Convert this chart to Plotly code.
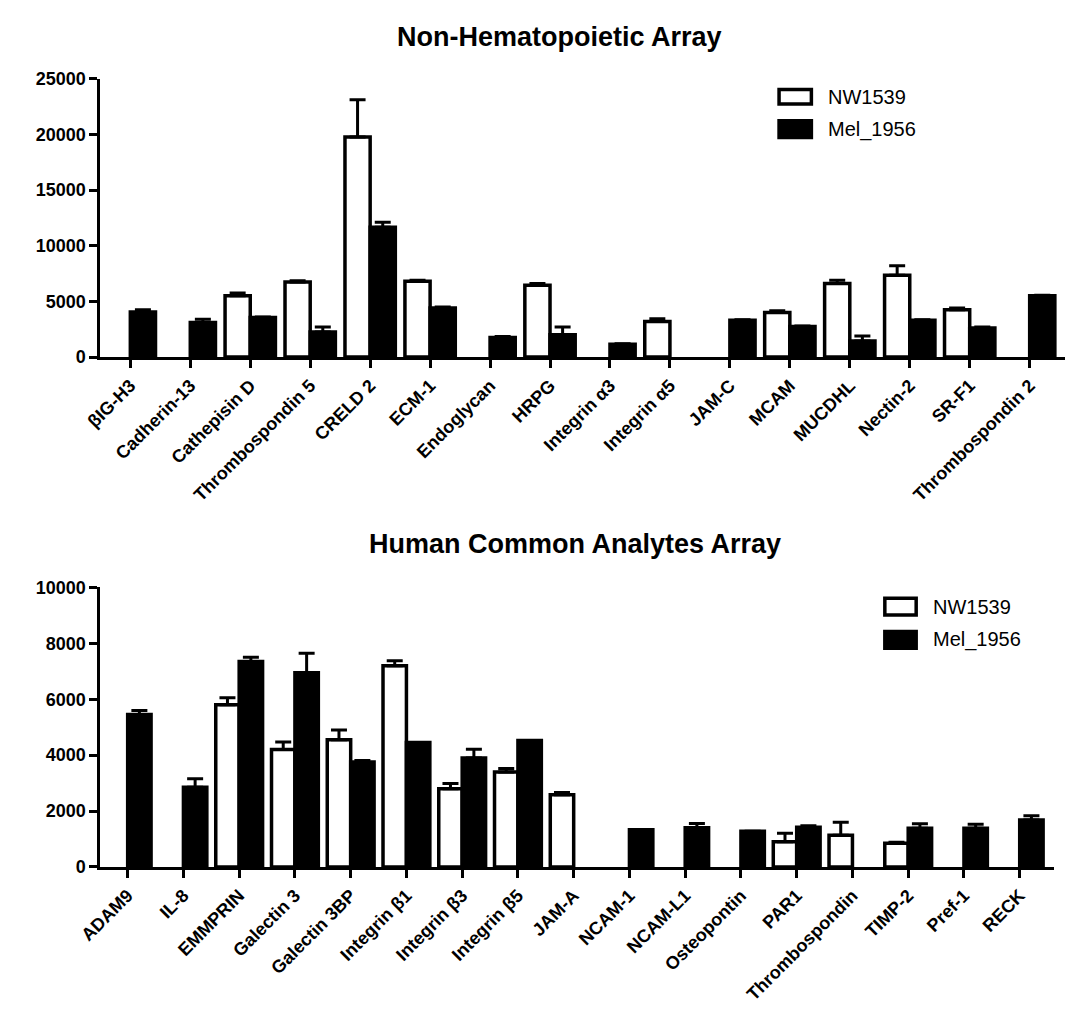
import plotly.graph_objects as go

W, H = 1067, 1022
FONT = "Liberation Sans, Arial, sans-serif"

# ---------------- Data: Non-Hematopoietic Array ----------------
top_categories = ["βIG-H3", "Cadherin-13", "Cathepisin D", "Thrombospondin 5", "CRELD 2",
                  "ECM-1", "Endoglycan", "HRPG", "Integrin α3", "Integrin α5", "JAM-C",
                  "MCAM", "MUCDHL", "Nectin-2", "SR-F1", "Thrombospondin 2"]
top_nw1539 = [None, None, 5500, 6750, 19750, 6800, None, 6450, None, 3200, None,
              4000, 6600, 7350, 4250, None]
top_nw1539_err = [0, 0, 250, 100, 3350, 100, 0, 150, 0, 250, 0, 150, 300, 850, 150, 0]
top_mel1956 = [4050, 3100, 3550, 2250, 11650, 4400, 1750, 2000, 1150, None, 3300,
               2750, 1450, 3300, 2600, 5500]
top_mel1956_err = [200, 300, 50, 450, 450, 100, 100, 700, 50, 0, 50, 50, 450, 50, 100, 50]

# ---------------- Data: Human Common Analytes Array ----------------
bot_categories = ["ADAM9", "IL-8", "EMMPRIN", "Galectin 3", "Galectin 3BP", "Integrin β1",
                  "Integrin β3", "Integrin β5", "JAM-A", "NCAM-1", "NCAM-L1", "Osteopontin",
                  "PAR1", "Thrombospondin", "TIMP-2", "Pref-1", "RECK"]
bot_nw1539 = [None, None, 5800, 4200, 4550, 7200, 2800, 3400, 2580, None, None, None,
              900, 1130, 850, None, None]
bot_nw1539_err = [0, 0, 250, 270, 350, 180, 180, 120, 80, 0, 0, 0, 300, 470, 30, 0, 0]
bot_mel1956 = [5450, 2850, 7350, 6950, 3750, 4450, 3900, 4520, None, 1330, 1400, 1280,
               1420, None, 1380, 1380, 1680]
bot_mel1956_err = [150, 300, 150, 700, 60, 0, 310, 0, 0, 0, 150, 0, 50, 0, 160, 150, 150]

series_names = ["NW1539", "Mel_1956"]
top_title = "Non-Hematopoietic Array"
bot_title = "Human Common Analytes Array"


def px_x(x):
    return x / W


def px_y(y):
    return 1 - y / H


fig = go.Figure()


def add_bars(cats, n_vals, n_err, m_vals, m_err, xa, ya):
    fig.add_trace(go.Bar(
        x=cats, y=n_vals, name=series_names[0], xaxis=xa, yaxis=ya,
        marker=dict(color="white", line=dict(color="black", width=3.5)),
        error_y=dict(type="data", symmetric=False, array=n_err,
                     arrayminus=[0] * len(n_err), color="black", thickness=3, width=8),
        showlegend=False,
    ))
    fig.add_trace(go.Bar(
        x=cats, y=m_vals, name=series_names[1], xaxis=xa, yaxis=ya,
        marker=dict(color="black", line=dict(color="black", width=3.5)),
        error_y=dict(type="data", symmetric=False, array=m_err,
                     arrayminus=[0] * len(m_err), color="black", thickness=3, width=8),
        showlegend=False,
    ))


add_bars(top_categories, top_nw1539, top_nw1539_err, top_mel1956, top_mel1956_err, "x", "y")
add_bars(bot_categories, bot_nw1539, bot_nw1539_err, bot_mel1956, bot_mel1956_err, "x2", "y2")

tickfont = dict(family=FONT, size=18, color="black", weight="bold")

axis_common = dict(showline=True, linecolor="black", linewidth=3, ticks="outside",
                   tickcolor="black", tickwidth=2.5, ticklen=8, showgrid=False,
                   zeroline=False, tickfont=tickfont)

fig.update_layout(
    width=W, height=H,
    margin=dict(l=0, r=0, t=0, b=0),
    paper_bgcolor="white", plot_bgcolor="white",
    barmode="group",
    bargap=0.16, bargroupgap=0,
    showlegend=False,
    xaxis=dict(domain=[px_x(80), px_x(1065)], anchor="y", type="category",
               range=[-0.5, 15.59], tickangle=-45, **axis_common),
    yaxis=dict(domain=[px_y(354), px_y(70)], anchor="x", range=[0, 25000],
               tickmode="linear", tick0=0, dtick=5000, tickformat="d", **axis_common),
    xaxis2=dict(domain=[px_x(80), px_x(1054)], anchor="y2", type="category",
                range=[-0.49, 16.62], tickangle=-45, **axis_common),
    yaxis2=dict(domain=[px_y(874), px_y(589)], anchor="x2", range=[0, 10000],
                tickmode="linear", tick0=0, dtick=2000, tickformat="d", **axis_common),
)

# Titles
title_font = dict(family=FONT, size=27, color="black", weight="bold")
fig.add_annotation(text=top_title, x=px_x(549), y=px_y(28), xref="paper", yref="paper",
                   showarrow=False, font=title_font, xanchor="center", yanchor="middle")
fig.add_annotation(text=bot_title, x=px_x(565), y=px_y(545), xref="paper", yref="paper",
                   showarrow=False, font=title_font, xanchor="center", yanchor="middle")

# Manual legends (box + label)
legend_font = dict(family=FONT, size=20, color="black")


def add_legend(bx0, bx1, rows, text_x):
    for (y0, y1), fill, label in zip(rows, ["white", "black"], series_names):
        fig.add_shape(type="rect", xref="paper", yref="paper",
                      x0=px_x(bx0), x1=px_x(bx1), y0=px_y(y1), y1=px_y(y0),
                      line=dict(color="black", width=3.5), fillcolor=fill)
        fig.add_annotation(text=label, x=px_x(text_x), y=px_y((y0 + y1) / 2),
                           xref="paper", yref="paper", showarrow=False,
                           font=legend_font, xanchor="left", yanchor="middle")


add_legend(773, 806, [(81, 96), (113, 130)], 821)
add_legend(881, 913, [(600, 617), (634, 651)], 928)

fig.write_html("out.html")
